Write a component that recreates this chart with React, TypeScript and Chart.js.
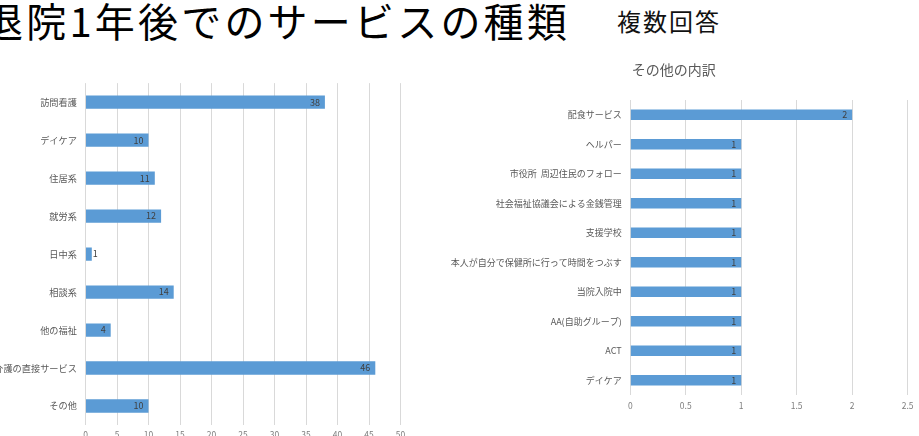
import React, { useEffect, useRef } from "react";
import { Chart, registerables } from "chart.js";

Chart.register(...registerables);

const pageTitle = "退院1年後でのサービスの種類";
const pageNote = "複数回答";

const mainCategories = [
  "訪問看護",
  "デイケア",
  "住居系",
  "就労系",
  "日中系",
  "相談系",
  "他の福祉",
  "介護の直接サービス",
  "その他",
];
const mainValues = [38, 10, 11, 12, 1, 14, 4, 46, 10];
const mainAxisMax = 50;
const mainAxisStep = 5;

const otherTitle = "その他の内訳";
const otherCategories = [
  "配食サービス",
  "ヘルパー",
  "市役所  周辺住民のフォロー",
  "社会福祉協議会による金銭管理",
  "支援学校",
  "本人が自分で保健所に行って時間をつぶす",
  "当院入院中",
  "AA(自助グループ)",
  "ACT",
  "デイケア",
];
const otherValues = [2, 1, 1, 1, 1, 1, 1, 1, 1, 1];
const otherAxisMax = 2.5;
const otherAxisStep = 0.5;

const FONT = "'Noto Sans CJK JP', 'Noto Sans', sans-serif";
const BAR_COLOR = "#5B9BD5";

const valueLabels = {
  id: "valueLabels",
  afterDatasetsDraw(chart: any) {
    const ctx = chart.ctx;
    ctx.save();
    ctx.font = `9px ${FONT}`;
    ctx.fillStyle = "#404040";
    ctx.textBaseline = "middle";
    chart.data.datasets.forEach((ds: any, di: number) => {
      const meta = chart.getDatasetMeta(di);
      meta.data.forEach((el: any, i: number) => {
        const text = String(ds.data[i]);
        const w = ctx.measureText(text).width;
        const barW = el.x - el.base;
        if (barW < w + 8) {
          ctx.textAlign = "left";
          ctx.fillText(text, el.x + 1, el.y);
        } else {
          ctx.textAlign = "right";
          ctx.fillText(text, el.x - 5, el.y);
        }
      });
    });
    ctx.restore();
  },
};

function baseOptions(opts: {
  max: number;
  step: number;
  yWidth: number;
  padding: any;
  catFont: number;
  tickPad: number;
  title?: string;
}) {
  return {
    indexAxis: "y" as const,
    responsive: false,
    animation: false as const,
    devicePixelRatio: 1,
    layout: { padding: opts.padding },
    plugins: {
      legend: { display: false },
      tooltip: { enabled: false },
      title: opts.title
        ? {
            display: true,
            text: opts.title,
            color: "#595959",
            font: { family: FONT, size: 14, weight: "normal" as const },
            padding: { top: 6.6, bottom: 21.6 },
          }
        : { display: false },
    },
    scales: {
      x: {
        min: 0,
        max: opts.max,
        afterFit(s: any) {
          s.height = 20;
        },
        ticks: {
          stepSize: opts.step,
          color: "#7f7f7f",
          padding: opts.tickPad,
          font: { family: FONT, size: 8.5 },
          callback: (v: any) => String(Number(v)),
        },
        grid: { color: "#d9d9d9", drawTicks: false, lineWidth: 1 },
        border: { display: false },
      },
      y: {
        afterFit(s: any) {
          s.width = opts.yWidth;
        },
        ticks: {
          color: "#595959",
          padding: 8.6,
          autoSkip: false,
          font: { family: FONT, size: opts.catFont },
        },
        grid: { display: false, drawTicks: false },
        border: { display: false },
      },
    },
  };
}

function BarChart(props: {
  labels: string[];
  values: number[];
  options: any;
  width: number;
  height: number;
  style: React.CSSProperties;
}) {
  const ref = useRef<HTMLCanvasElement>(null);
  useEffect(() => {
    if (!ref.current) return;
    const chart = new Chart(ref.current, {
      type: "bar",
      data: {
        labels: props.labels,
        datasets: [
          {
            data: props.values,
            backgroundColor: BAR_COLOR,
            borderWidth: 0,
            barPercentage: 0.35,
            categoryPercentage: 1,
          },
        ],
      },
      options: props.options,
      plugins: [valueLabels],
    });
    return () => chart.destroy();
  }, []);
  return (
    <canvas
      ref={ref}
      width={props.width}
      height={props.height}
      style={{ position: "absolute", width: props.width, height: props.height, ...props.style }}
    />
  );
}

export default function App() {
  return (
    <div
      style={{
        position: "fixed",
        left: 0,
        top: 0,
        width: 919,
        height: 436,
        overflow: "hidden",
        background: "#ffffff",
      }}
    >
      <div
        style={{
          position: "absolute",
          left: -17,
          top: 0,
          fontFamily: FONT,
          fontSize: 40,
          lineHeight: "40px",
          letterSpacing: 3.2,
          color: "#000",
          whiteSpace: "nowrap",
        }}
      >
        {pageTitle}
      </div>
      <div
        style={{
          position: "absolute",
          left: 617,
          top: 9,
          fontFamily: FONT,
          fontSize: 24,
          lineHeight: "24px",
          letterSpacing: 2,
          color: "#111",
          whiteSpace: "nowrap",
        }}
      >
        {pageNote}
      </div>
      <BarChart
        labels={mainCategories}
        values={mainValues}
        width={415}
        height={380}
        style={{ left: 0, top: 69 }}
        options={baseOptions({
          max: mainAxisMax,
          step: mainAxisStep,
          yWidth: 85.5,
          padding: { left: 0, right: 14.5, top: 11, bottom: 4 },
          catFont: 9.2,
          tickPad: 4.5,
        })}
      />
      <BarChart
        labels={otherCategories}
        values={otherValues}
        width={483}
        height={381}
        style={{ left: 436, top: 55 }}
        options={baseOptions({
          max: otherAxisMax,
          step: otherAxisStep,
          yWidth: 194.3,
          padding: { left: 0, right: 7.3, top: 0, bottom: 21 },
          catFont: 9,
          tickPad: 5.5,
          title: otherTitle,
        })}
      />
    </div>
  );
}
